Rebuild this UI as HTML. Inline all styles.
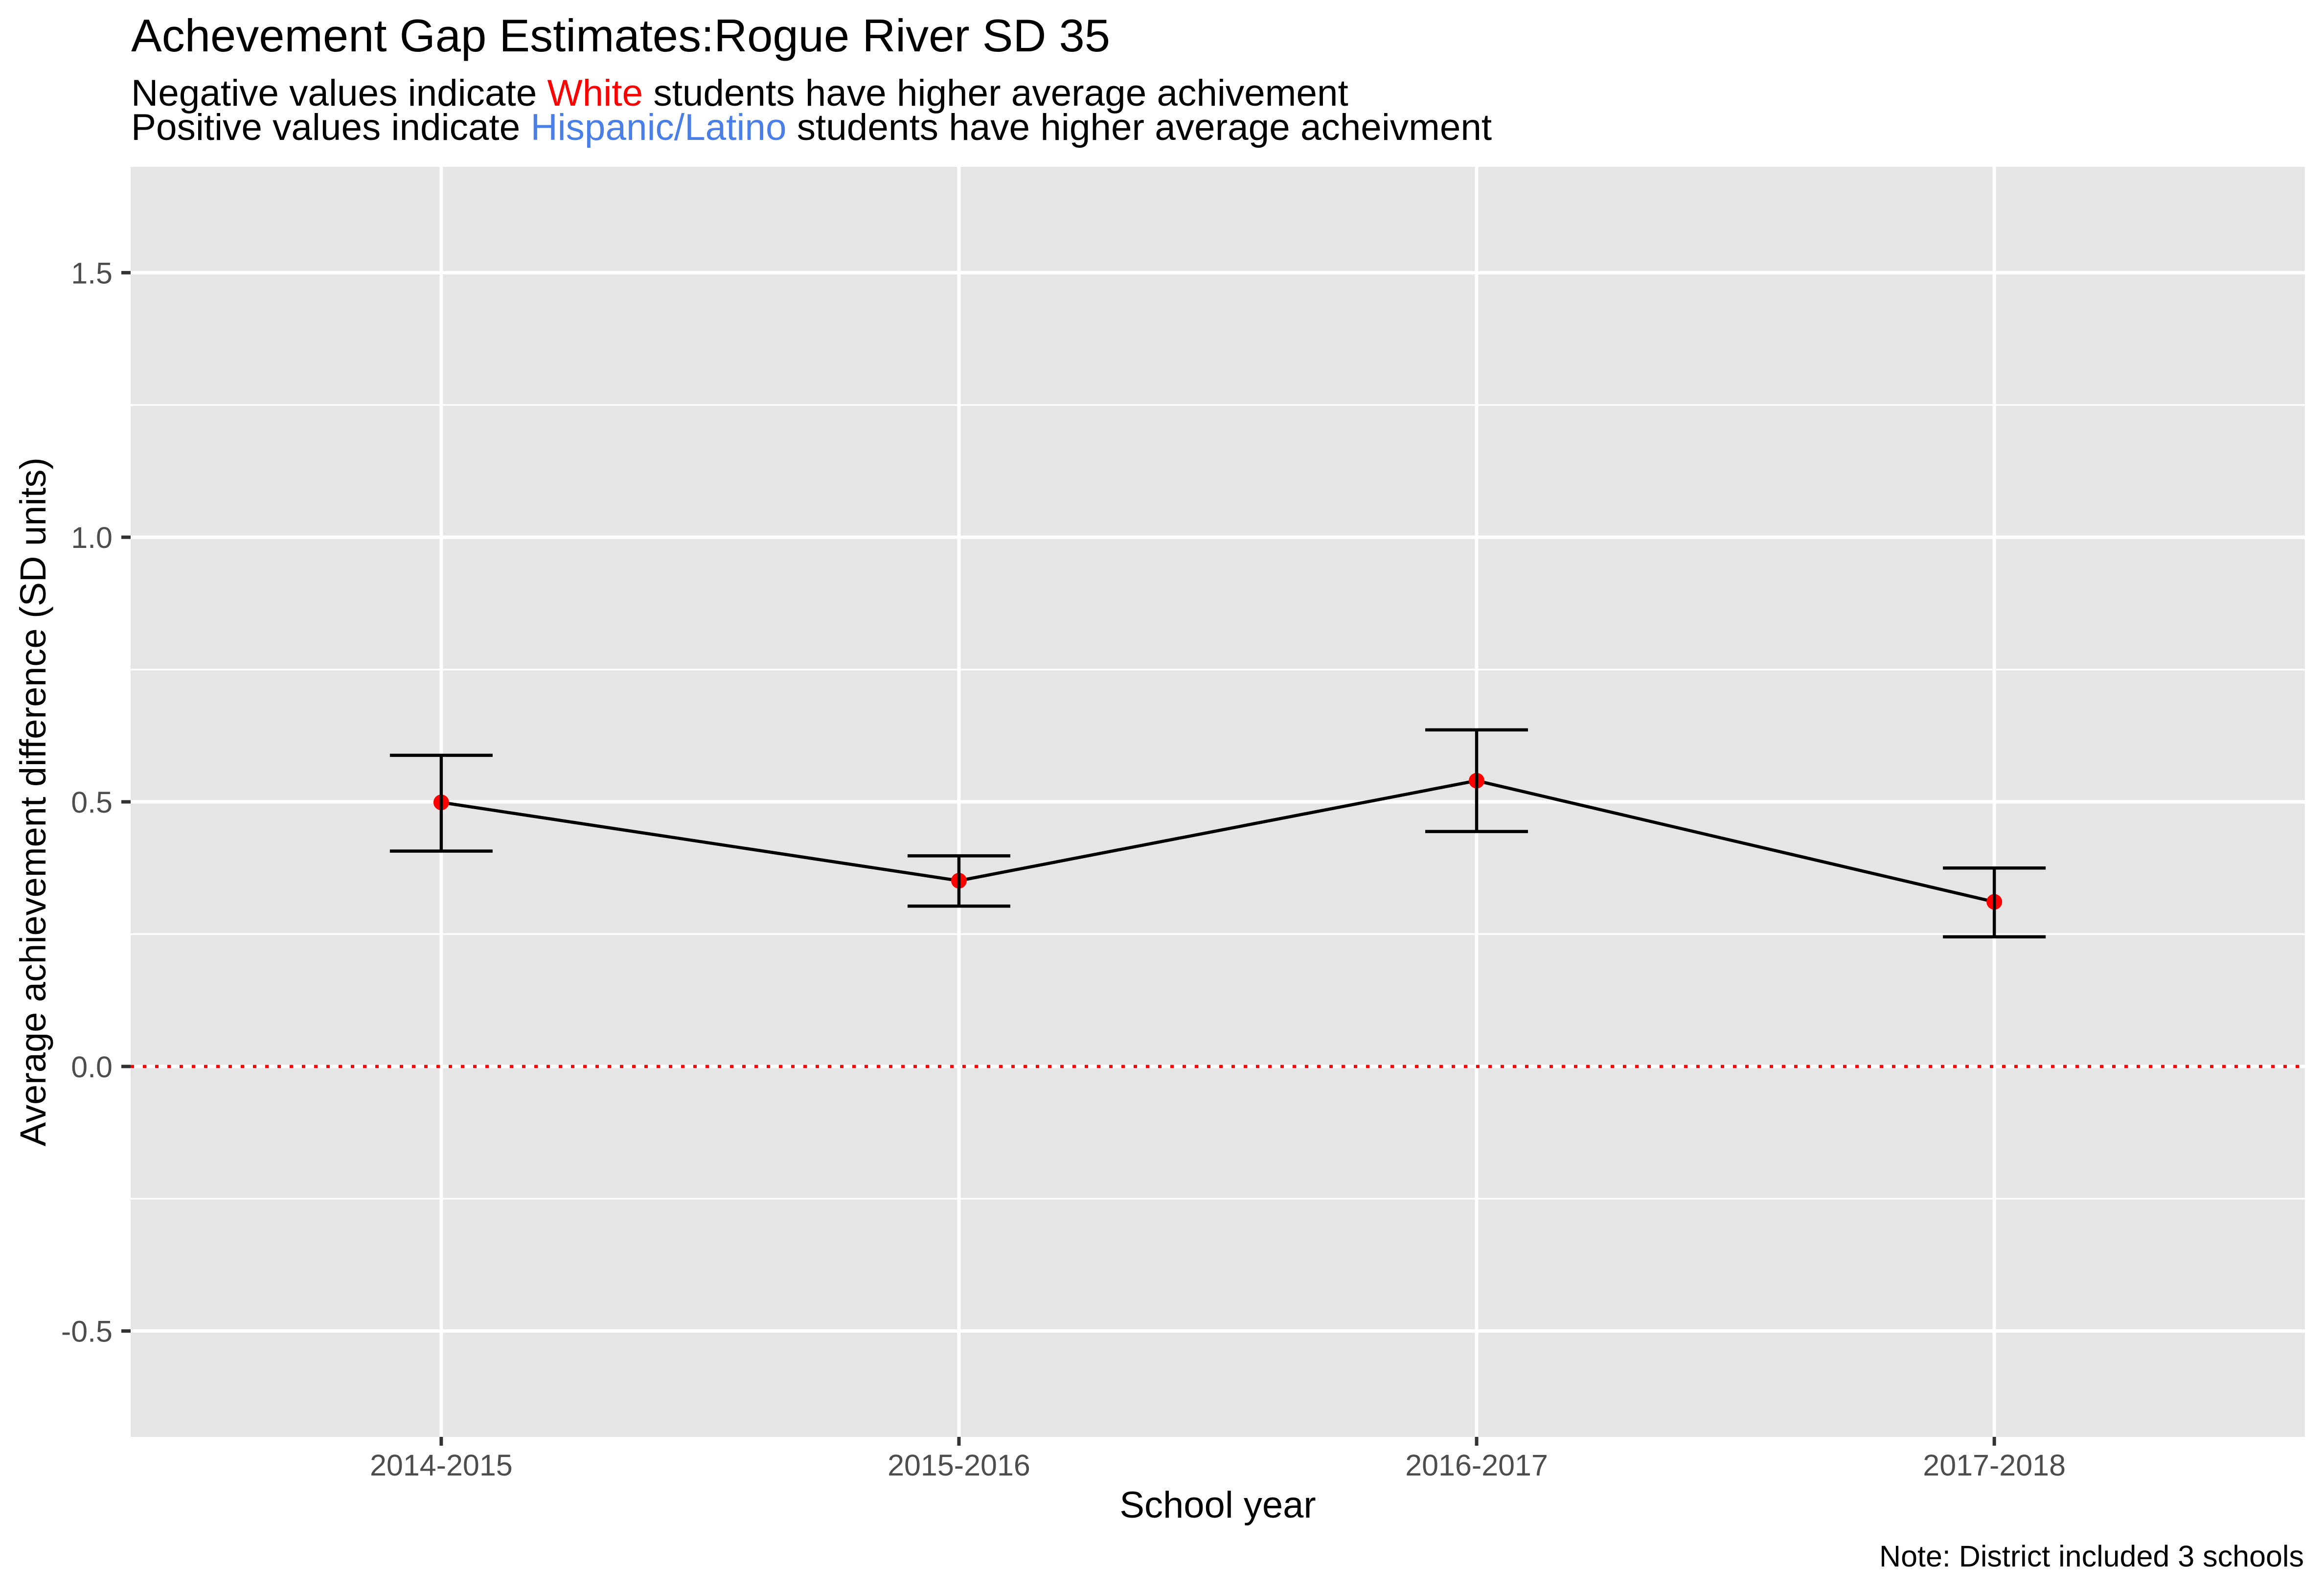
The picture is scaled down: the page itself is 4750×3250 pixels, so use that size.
<!DOCTYPE html>
<html><head><meta charset="utf-8">
<style>
html,body{margin:0;padding:0;background:#fff;}
svg{display:block;font-family:"Liberation Sans",Arial,sans-serif;}
</style></head>
<body>
<svg id="chart" width="4750" height="3250" viewBox="0 0 4750 3250" xmlns="http://www.w3.org/2000/svg">
<text x="268" y="105" font-size="94" fill="#000">Achevement Gap Estimates:Rogue River SD 35</text>
<text x="268" y="216" font-size="76.5" fill="#000">Negative values indicate <tspan fill="#ff0000">White</tspan> students have higher average achivement</text>
<text x="268" y="286" font-size="76.5" fill="#000">Positive values indicate <tspan fill="#4a7fe8">Hispanic/Latino</tspan> students have higher average acheivment</text>
<rect x="267" y="341" width="4444" height="2596" fill="#e5e5e5"/>
<g id="grid"></g>
<g id="marks"></g>
<g id="axes"></g>
<text x="2489" y="3102" font-size="76" text-anchor="middle" fill="#000">School year</text>
<text transform="translate(93,1639) rotate(-90)" font-size="74" text-anchor="middle" fill="#000">Average achievement difference (SD units)</text>
<text x="4709" y="3202" font-size="61" text-anchor="end" fill="#000">Note: District included 3 schools</text>
</svg>
<script>
const categories = ["2014-2015","2015-2016","2016-2017","2017-2018"];
const estimates = [0.499, 0.351, 0.540, 0.311];
const upperCI = [0.588, 0.398, 0.636, 0.375];
const lowerCI = [0.407, 0.303, 0.444, 0.245];
const yTicks = [-0.5, 0, 0.5, 1.0, 1.5];
const yTickLabels = ["-0.5","0.0","0.5","1.0","1.5"];
const yMinor = [-0.25, 0.25, 0.75, 1.25];

const NS = "http://www.w3.org/2000/svg";
const PL = 267, PR = 4711, PT = 341, PB = 2937;
const Y0 = -0.70, Y1 = 1.70;
function sx(i){ return PL + (i + 1 - 0.4) / 4.2 * (PR - PL); }
function sy(v){ return PB - (v - Y0) / (Y1 - Y0) * (PB - PT); }
function mk(tag, attrs, parent){
  const e = document.createElementNS(NS, tag);
  for (const k in attrs) e.setAttribute(k, attrs[k]);
  parent.appendChild(e); return e;
}
const grid = document.getElementById('grid');
const marks = document.getElementById('marks');
const axes = document.getElementById('axes');
const LW = 6.5;

yMinor.forEach(v => {
  const l = mk('line', {x1:PL, x2:PR, y1:sy(v), y2:sy(v), stroke:'#fff', 'stroke-width':3.5}, grid);
  
  
});
yTicks.forEach((v, i) => {
  const l = mk('line', {x1:PL, x2:PR, y1:sy(v), y2:sy(v), stroke:'#fff', 'stroke-width':7}, grid);
  
  
  const t = mk('line', {x1:248, x2:PL, y1:sy(v), y2:sy(v), stroke:'#333', 'stroke-width':7}, axes);
  
  
  const tx = mk('text', {x:230, y:sy(v) + 22, 'font-size':61, 'text-anchor':'end', fill:'#4d4d4d'}, axes);
  tx.textContent = yTickLabels[i];
  
  
});
categories.forEach((c, i) => {
  const l = mk('line', {x1:sx(i), x2:sx(i), y1:PT, y2:PB, stroke:'#fff', 'stroke-width':7}, grid);
  
  
  const t = mk('line', {x1:sx(i), x2:sx(i), y1:PB, y2:PB + 18, stroke:'#333', 'stroke-width':7}, axes);
  
  
  const tx = mk('text', {x:sx(i), y:3016, 'font-size':61, 'text-anchor':'middle', fill:'#4d4d4d'}, axes);
  tx.textContent = c;
  
  
});
const zero = mk('line', {x1:PL, x2:PR, y1:sy(0), y2:sy(0), stroke:'#ff0000', 'stroke-width':LW, 'stroke-dasharray':'7 18'}, marks);



const capHalf = 105;
categories.forEach((c, i) => {
  const g = mk('g', {stroke:'#000', 'stroke-width':LW}, marks);
  
  
  mk('line', {x1:sx(i), x2:sx(i), y1:sy(upperCI[i]), y2:sy(lowerCI[i])}, g);
  mk('line', {x1:sx(i)-capHalf, x2:sx(i)+capHalf, y1:sy(upperCI[i]), y2:sy(upperCI[i])}, g);
  mk('line', {x1:sx(i)-capHalf, x2:sx(i)+capHalf, y1:sy(lowerCI[i]), y2:sy(lowerCI[i])}, g);
});
const pts = estimates.map((v, i) => sx(i) + ',' + sy(v)).join(' ');
const line = mk('polyline', {points:pts, fill:'none', stroke:'#000', 'stroke-width':LW}, marks);


estimates.forEach((v, i) => {
  const p = mk('circle', {cx:sx(i), cy:sy(v), r:16, fill:'#ff0000'}, marks);
  
  
});
estimates.forEach((v, i) => {
  mk('line', {x1:sx(i), x2:sx(i), y1:sy(v)-16, y2:sy(v)+16, stroke:'#000', 'stroke-width':LW}, marks);
});
</script>
</body></html>
